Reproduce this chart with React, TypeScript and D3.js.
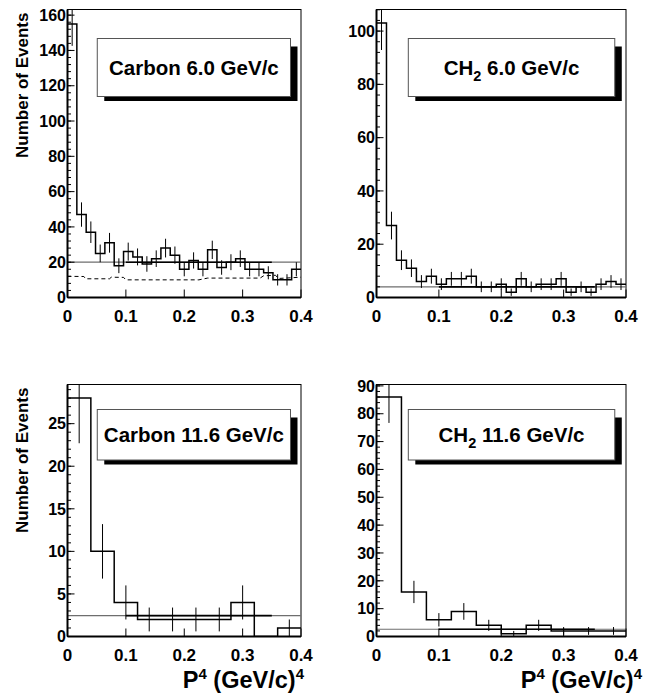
import React from 'react';
import * as d3 from 'd3';

const FONT = '"Liberation Sans", Arial, Helvetica, sans-serif';

// bin lower edges (upper edge appended last)
const fineEdges = d3.range(26).map((i) => i * 0.016);
const coarseEdges = d3.range(11).map((i) => i * 0.04);

const carbon6Counts = [155, 47, 37, 25, 31, 18, 26, 23, 19, 22, 28, 24, 16, 21, 16, 27, 17, 20, 22, 16, 16, 14, 10, 10, 16];
const carbon6Errors = [12.4, 6.9, 6.1, 5, 5.6, 4.2, 5.1, 4.8, 4.4, 4.7, 5.3, 4.9, 4, 4.6, 4, 5.2, 4.1, 4.5, 4.7, 4, 4, 3.7, 3.2, 3.2, 4];
const ch2_6Counts = [103, 27, 14, 11, 6, 8, 5, 7, 7, 8, 4, 4, 5, 2, 7, 4, 5, 5, 7, 2, 4, 2, 5, 6, 5];
const ch2_6Errors = [10.1, 5.2, 3.7, 3.3, 2.4, 2.8, 2.2, 2.6, 2.6, 2.8, 2, 2, 2.2, 1.4, 2.6, 2, 2.2, 2.2, 2.6, 1.4, 2, 1.4, 2.2, 2.4, 2.2];
const carbon11Counts = [28, 10, 4, 2, 2, 2, 2, 4, 0, 1];
const carbon11Errors = [5.3, 3.2, 2, 1.4, 1.4, 1.4, 1.4, 2, 0, 1];
const ch2_11Counts = [86, 16, 6, 9, 4, 1, 4, 2, 2, 2];
const ch2_11Errors = [9.3, 4, 2.4, 3, 2, 1, 2, 1.4, 1.4, 1.4];

// flat background levels
const levels = [20, 4, 2.45, 2.6];

// dashed curve in the carbon 6.0 panel
const dashX = [0, 0.028, 0.031, 0.072, 0.075, 0.096, 0.1, 0.225, 0.24, 0.33, 0.336, 0.356, 0.362, 0.4];
const dashY = [12, 11.9, 10.6, 10.6, 11.5, 11.4, 10, 10, 11, 11, 12.3, 12.6, 10.8, 11.5];

const xTicks = [0, 0.1, 0.2, 0.3, 0.4];
const xTickLabels = ['0', '0.1', '0.2', '0.3', '0.4'];

type PanelProps = {
  id: string;
  left: number; right: number; top: number; bottom: number;
  yMax: number; yMajor: number; yMinor: number;
  edges: number[]; counts: number[]; errors: number[]; level: number;
  target: string; sub: boolean; energy: string;
  boxTop: number; boxBottom: number;
  yTitle: boolean; xTitle: boolean; xTitleEnd: number;
  dashed?: boolean;
};

const Panel = (p: PanelProps) => {
  const x = d3.scaleLinear().domain([0, 0.4]).range([p.left, p.right]);
  const y = d3.scaleLinear().domain([0, p.yMax]).range([p.bottom, p.top]);

  const steps: [number, number][] = p.counts.map((c, i) => [p.edges[i], c]);
  steps.push([p.edges[p.counts.length], p.counts[p.counts.length - 1]]);
  const stepLine = d3.line<[number, number]>().x((d) => x(d[0])).y((d) => y(d[1])).curve(d3.curveStepAfter);

  const dashLine = d3.line<number>().x((d) => x(d)).y((_, i) => y(dashY[i]));

  const minors = d3.range(0, p.yMax + 1e-6, p.yMinor);
  const majors = d3.range(0, p.yMax + 1e-6, p.yMajor);

  // legend box
  const bx0 = x(0.051), bx1 = x(0.382);
  const by0 = p.boxTop, by1 = p.boxBottom;
  const textY = (by0 + by1) / 2 + 7;

  return (
    <g>
      <defs>
        <clipPath id={p.id}>
          <rect x={p.left} y={p.top} width={p.right - p.left} height={p.bottom - p.top} />
        </clipPath>
      </defs>
      <rect x={p.left} y={p.top} width={p.right - p.left} height={p.bottom - p.top} fill="white" stroke="black" strokeWidth={1} />
      <g clipPath={`url(#${p.id})`}>
        <line x1={x(0)} x2={x(0.4)} y1={y(p.level)} y2={y(p.level)} stroke="#6e6e6e" strokeWidth={1.2} />
        <line x1={x(0.1)} x2={x(0.35)} y1={y(p.level)} y2={y(p.level)} stroke="black" strokeWidth={1.6} />
        {p.dashed && (
          <path d={dashLine(dashX) || ''} fill="none" stroke="black" strokeWidth={1} strokeDasharray="4,3" />
        )}
        <path d={stepLine(steps) || ''} fill="none" stroke="black" strokeWidth={1.5} />
        {p.counts.map((c, i) =>
          c > 0 ? (
            <line
              key={i}
              x1={x((p.edges[i] + p.edges[i + 1]) / 2)}
              x2={x((p.edges[i] + p.edges[i + 1]) / 2)}
              y1={y(c - p.errors[i])}
              y2={y(c + p.errors[i])}
              stroke="black"
              strokeWidth={1}
            />
          ) : null
        )}
      </g>
      {/* axes */}
      <line x1={p.left} x2={p.left} y1={p.top} y2={p.bottom} stroke="black" strokeWidth={2} />
      <line x1={p.left} x2={p.right} y1={p.bottom} y2={p.bottom} stroke="black" strokeWidth={2} />
      {minors.map((v, i) => (
        <line key={'m' + i} x1={p.left} x2={p.left + 3.5} y1={y(v)} y2={y(v)} stroke="black" strokeWidth={1} />
      ))}
      {majors.map((v, i) => (
        <g key={'M' + i}>
          <line x1={p.left} x2={p.left + 7} y1={y(v)} y2={y(v)} stroke="black" strokeWidth={1} />
          <text x={p.left - 1.5} y={y(v)} dy="0.36em" textAnchor="end" fontFamily={FONT} fontWeight="bold" fontSize={16}>
            {String(v)}
          </text>
        </g>
      ))}
      {xTicks.map((v, i) => (
        <g key={'x' + i}>
          <line x1={x(v)} x2={x(v)} y1={p.bottom} y2={p.bottom - 8} stroke="black" strokeWidth={1} />
          <text x={x(v)} y={p.bottom + 24} textAnchor="middle" fontFamily={FONT} fontWeight="bold" fontSize={17}>
            {xTickLabels[i]}
          </text>
        </g>
      ))}
      {/* legend */}
      <rect x={bx0 + 7} y={by0 + 8} width={bx1 - bx0} height={by1 - by0 - 3.5} fill="black" />
      <rect x={bx0} y={by0} width={bx1 - bx0} height={by1 - by0} fill="white" stroke="#555" strokeWidth={1} />
      <text x={(bx0 + bx1) / 2} y={textY} textAnchor="middle" fontFamily={FONT} fontWeight="bold" fontSize={20.5}>
        {p.sub ? (
          <>
            CH<tspan fontSize={14.5} dy={6}>2</tspan>
            <tspan dy={-6}>{' ' + p.energy}</tspan>
          </>
        ) : (
          `${p.target} ${p.energy}`
        )}
      </text>
      {p.yTitle && (
        <text
          transform={`translate(28,${p.top + 3}) rotate(-90)`}
          textAnchor="end"
          fontFamily={FONT}
          fontWeight="bold"
          fontSize={17}
        >
          Number of Events
        </text>
      )}
      {p.xTitle && (
        <text x={p.xTitleEnd} y={688} textAnchor="end" fontFamily={FONT} fontWeight="bold" fontSize={23.5}>
          P<tspan fontSize={15} dy={-9}>4</tspan>
          <tspan dy={9}> (GeV/c)</tspan>
          <tspan fontSize={15} dy={-9}>4</tspan>
        </text>
      )}
    </g>
  );
};

const App = () => {
  return (
    <svg width={647} height={693} style={{ display: 'block', position: 'absolute', left: 0, top: 0, background: 'white' }}>
      <rect width={647} height={693} fill="white" />
      <Panel
        id="c1" left={67.5} right={301} top={9.5} bottom={297.5}
        yMax={163.2} yMajor={20} yMinor={4}
        edges={fineEdges} counts={carbon6Counts} errors={carbon6Errors} level={levels[0]}
        target="Carbon" sub={false} energy="6.0 GeV/c" boxTop={38.5} boxBottom={96.5}
        yTitle={true} xTitle={false} xTitleEnd={0} dashed={true}
      />
      <Panel
        id="c2" left={376.5} right={626} top={9.5} bottom={297.5}
        yMax={108.1} yMajor={20} yMinor={4}
        edges={fineEdges} counts={ch2_6Counts} errors={ch2_6Errors} level={levels[1]}
        target="CH2" sub={true} energy="6.0 GeV/c" boxTop={38.5} boxBottom={96.5}
        yTitle={false} xTitle={false} xTitleEnd={0}
      />
      <Panel
        id="c3" left={67.5} right={301} top={384.5} bottom={636.5}
        yMax={29.6} yMajor={5} yMinor={1}
        edges={coarseEdges} counts={carbon11Counts} errors={carbon11Errors} level={levels[2]}
        target="Carbon" sub={false} energy="11.6 GeV/c" boxTop={409.5} boxBottom={460}
        yTitle={true} xTitle={true} xTitleEnd={304}
      />
      <Panel
        id="c4" left={376.5} right={626} top={384.5} bottom={636.5}
        yMax={90.5} yMajor={10} yMinor={2}
        edges={coarseEdges} counts={ch2_11Counts} errors={ch2_11Errors} level={levels[3]}
        target="CH2" sub={true} energy="11.6 GeV/c" boxTop={409.5} boxBottom={460}
        yTitle={false} xTitle={true} xTitleEnd={642}
      />
    </svg>
  );
};

export default App;
